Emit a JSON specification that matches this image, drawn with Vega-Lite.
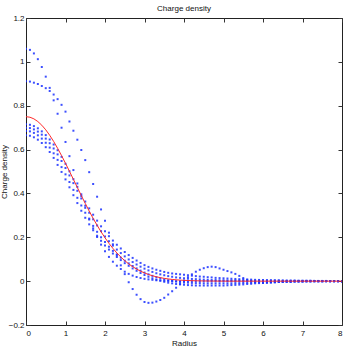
{
  "$schema": "https://vega.github.io/schema/vega-lite/v6.json",
  "width": 316,
  "height": 307,
  "autosize": {"type": "none"},
  "padding": {"left": 26, "top": 18, "right": 7, "bottom": 24},
  "title": {"text": "Charge density", "fontSize": 8, "font": "Liberation Sans", "fontWeight": "normal", "color": "#111", "offset": 1},
  "data": {"values": [
    {"r":0,"R":0.75,"a":1.06,"b":0.912,"c":0.715,"d":0.7,"e":0.685,"f":0.665},
    {"r":0.1,"R":0.7475,"a":1.0546,"b":0.91,"c":0.713,"d":0.698,"e":0.683,"f":0.663},
    {"r":0.2,"R":0.7401,"a":1.0385,"b":0.905,"c":0.707,"d":0.692,"e":0.676,"f":0.656},
    {"r":0.3,"R":0.7278,"a":1.0122,"b":0.899,"c":0.697,"d":0.682,"e":0.665,"f":0.645},
    {"r":0.4,"R":0.711,"a":0.9765,"b":0.89,"c":0.683,"d":0.668,"e":0.65,"f":0.63},
    {"r":0.5,"R":0.69,"a":0.9325,"b":0.88,"c":0.666,"d":0.65,"e":0.631,"f":0.611},
    {"r":0.6,"R":0.6652,"a":0.8813,"b":0.867,"c":0.646,"d":0.629,"e":0.609,"f":0.589},
    {"r":0.7,"R":0.637,"a":0.8245,"b":0.851,"c":0.623,"d":0.605,"e":0.583,"f":0.562},
    {"r":0.8,"R":0.6059,"a":0.7634,"b":0.83,"c":0.597,"d":0.578,"e":0.553,"f":0.53},
    {"r":0.9,"R":0.5725,"a":0.6997,"b":0.804,"c":0.567,"d":0.548,"e":0.52,"f":0.498},
    {"r":1.0,"R":0.5374,"a":0.6347,"b":0.773,"c":0.535,"d":0.516,"e":0.487,"f":0.464},
    {"r":1.1,"R":0.5011,"a":0.57,"b":0.728,"c":0.501,"d":0.482,"e":0.452,"f":0.428},
    {"r":1.2,"R":0.4641,"a":0.5065,"b":0.686,"c":0.465,"d":0.447,"e":0.416,"f":0.392},
    {"r":1.3,"R":0.427,"a":0.4456,"b":0.645,"c":0.43,"d":0.412,"e":0.38,"f":0.356},
    {"r":1.4,"R":0.3902,"a":0.388,"b":0.598,"c":0.396,"d":0.377,"e":0.345,"f":0.321},
    {"r":1.5,"R":0.3543,"a":0.3343,"b":0.552,"c":0.363,"d":0.344,"e":0.312,"f":0.289},
    {"r":1.6,"R":0.3195,"a":0.2852,"b":0.497,"c":0.332,"d":0.312,"e":0.281,"f":0.259},
    {"r":1.7,"R":0.2862,"a":0.2408,"b":0.443,"c":0.303,"d":0.282,"e":0.252,"f":0.232},
    {"r":1.8,"R":0.2547,"a":0.2013,"b":0.385,"c":0.276,"d":0.254,"e":0.225,"f":0.207},
    {"r":1.9,"R":0.2252,"a":0.1665,"b":0.327,"c":0.25,"d":0.228,"e":0.2,"f":0.184},
    {"r":2.0,"R":0.1977,"a":0.1363,"b":0.275,"c":0.227,"d":0.204,"e":0.178,"f":0.163},
    {"r":2.1,"R":0.1724,"a":0.1105,"b":0.221,"c":0.205,"d":0.182,"e":0.157,"f":0.144},
    {"r":2.2,"R":0.1494,"a":0.0886,"b":0.168,"c":0.185,"d":0.162,"e":0.138,"f":0.126},
    {"r":2.3,"R":0.1286,"a":0.0704,"b":0.118,"c":0.166,"d":0.144,"e":0.122,"f":0.11},
    {"r":2.4,"R":0.11,"a":0.0553,"b":0.072,"c":0.149,"d":0.128,"e":0.107,"f":0.096},
    {"r":2.5,"R":0.0934,"a":0.043,"b":0.032,"c":0.133,"d":0.113,"e":0.093,"f":0.082},
    {"r":2.6,"R":0.0788,"a":0.0331,"b":-0.005,"c":0.119,"d":0.099,"e":0.081,"f":0.07},
    {"r":2.7,"R":0.066,"a":0.0252,"b":-0.036,"c":0.106,"d":0.087,"e":0.069,"f":0.058},
    {"r":2.8,"R":0.055,"a":0.019,"b":-0.062,"c":0.094,"d":0.076,"e":0.058,"f":0.047},
    {"r":2.9,"R":0.0455,"a":0.0142,"b":-0.082,"c":0.083,"d":0.066,"e":0.048,"f":0.037},
    {"r":3.0,"R":0.0373,"a":0.0105,"b":-0.095,"c":0.073,"d":0.057,"e":0.039,"f":0.028},
    {"r":3.1,"R":0.0305,"a":0.008,"b":-0.099,"c":0.065,"d":0.049,"e":0.031,"f":0.02},
    {"r":3.2,"R":0.0247,"a":0.006,"b":-0.098,"c":0.058,"d":0.042,"e":0.024,"f":0.013},
    {"r":3.3,"R":0.0199,"a":0.004,"b":-0.093,"c":0.052,"d":0.036,"e":0.018,"f":0.007},
    {"r":3.4,"R":0.0159,"a":0.003,"b":-0.086,"c":0.047,"d":0.031,"e":0.013,"f":0.002},
    {"r":3.5,"R":0.0126,"a":0.002,"b":-0.076,"c":0.042,"d":0.027,"e":0.008,"f":-0.003},
    {"r":3.6,"R":0.01,"a":0.001,"b":-0.061,"c":0.038,"d":0.023,"e":0.004,"f":-0.007},
    {"r":3.7,"R":0.0078,"a":0.001,"b":-0.046,"c":0.035,"d":0.02,"e":0.001,"f":-0.01},
    {"r":3.8,"R":0.0061,"a":0,"b":-0.03,"c":0.033,"d":0.017,"e":-0.002,"f":-0.013},
    {"r":3.9,"R":0.0047,"a":0,"b":-0.013,"c":0.031,"d":0.015,"e":-0.004,"f":-0.015},
    {"r":4.0,"R":0.0036,"a":0,"b":0.003,"c":0.029,"d":0.013,"e":-0.006,"f":-0.017},
    {"r":4.1,"R":0.0028,"a":0,"b":0.018,"c":0.027,"d":0.011,"e":-0.007,"f":-0.018},
    {"r":4.2,"R":0.0021,"a":0,"b":0.031,"c":0.025,"d":0.01,"e":-0.008,"f":-0.019},
    {"r":4.3,"R":0.0016,"a":0,"b":0.043,"c":0.023,"d":0.009,"e":-0.009,"f":-0.02},
    {"r":4.4,"R":0.0012,"a":0,"b":0.052,"c":0.021,"d":0.008,"e":-0.009,"f":-0.02},
    {"r":4.5,"R":0.0009,"a":0,"b":0.059,"c":0.02,"d":0.007,"e":-0.01,"f":-0.02},
    {"r":4.6,"R":0.0006,"a":0,"b":0.064,"c":0.018,"d":0.006,"e":-0.01,"f":-0.02},
    {"r":4.7,"R":0.0005,"a":0,"b":0.066,"c":0.017,"d":0.005,"e":-0.01,"f":-0.02},
    {"r":4.8,"R":0.0003,"a":0,"b":0.064,"c":0.015,"d":0.005,"e":-0.01,"f":-0.02},
    {"r":4.9,"R":0.0002,"a":0,"b":0.058,"c":0.014,"d":0.004,"e":-0.01,"f":-0.02},
    {"r":5.0,"R":0.0002,"a":0,"b":0.052,"c":0.013,"d":0.004,"e":-0.01,"f":-0.02},
    {"r":5.1,"R":0,"a":0,"b":0.046,"c":0.012,"d":0.003,"e":-0.01,"f":-0.019},
    {"r":5.2,"R":0,"a":0,"b":0.04,"c":0.011,"d":0.003,"e":-0.01,"f":-0.018},
    {"r":5.3,"R":0,"a":0,"b":0.033,"c":0.01,"d":0.003,"e":-0.009,"f":-0.017},
    {"r":5.4,"R":0,"a":0,"b":0.024,"c":0.009,"d":0.003,"e":-0.009,"f":-0.016},
    {"r":5.5,"R":0,"a":0,"b":0.014,"c":0.008,"d":0.002,"e":-0.008,"f":-0.015},
    {"r":5.6,"R":0,"a":0,"b":0.006,"c":0.0075,"d":0.002,"e":-0.007,"f":-0.013},
    {"r":5.7,"R":0,"a":0,"b":0,"c":0.007,"d":0.002,"e":-0.007,"f":-0.012},
    {"r":5.8,"R":0,"a":0,"b":-0.004,"c":0.006,"d":0.002,"e":-0.006,"f":-0.01},
    {"r":5.9,"R":0,"a":0,"b":-0.006,"c":0.0055,"d":0.002,"e":-0.005,"f":-0.009},
    {"r":6.0,"R":0,"a":0,"b":-0.007,"c":0.005,"d":0.002,"e":-0.005,"f":-0.008},
    {"r":6.1,"R":0,"a":0,"b":-0.007,"c":0.0047,"d":0.002,"e":-0.004,"f":-0.007},
    {"r":6.2,"R":0,"a":0,"b":-0.006,"c":0.0044,"d":0.002,"e":-0.004,"f":-0.006},
    {"r":6.3,"R":0,"a":0,"b":-0.005,"c":0.0041,"d":0.002,"e":-0.003,"f":-0.005},
    {"r":6.4,"R":0,"a":0,"b":-0.004,"c":0.0038,"d":0.002,"e":-0.003,"f":-0.004},
    {"r":6.5,"R":0,"a":0,"b":-0.003,"c":0.0035,"d":0.001,"e":-0.002,"f":-0.004},
    {"r":6.6,"R":0,"a":0,"b":-0.002,"c":0.003,"d":0.001,"e":-0.002,"f":-0.003},
    {"r":6.7,"R":0,"a":0,"b":-0.002,"c":0.003,"d":0.001,"e":-0.002,"f":-0.003},
    {"r":6.8,"R":0,"a":0,"b":-0.001,"c":0.003,"d":0.001,"e":-0.001,"f":-0.002},
    {"r":6.9,"R":0,"a":0,"b":-0.001,"c":0.002,"d":0.001,"e":-0.001,"f":-0.002},
    {"r":7.0,"R":0,"a":0,"b":-0.001,"c":0.002,"d":0.001,"e":-0.001,"f":-0.002},
    {"r":7.1,"R":0,"a":0,"b":0,"c":0.002,"d":0.001,"e":-0.001,"f":-0.001},
    {"r":7.2,"R":0,"a":0,"b":0,"c":0.002,"d":0.001,"e":-0.001,"f":-0.001},
    {"r":7.3,"R":0,"a":0,"b":0,"c":0.001,"d":0.001,"e":0,"f":-0.001},
    {"r":7.4,"R":0,"a":0,"b":0,"c":0.001,"d":0,"e":0,"f":-0.001},
    {"r":7.5,"R":0,"a":0,"b":0,"c":0.001,"d":0,"e":0,"f":-0.001},
    {"r":7.6,"R":0,"a":0,"b":0,"c":0.001,"d":0,"e":0,"f":0},
    {"r":7.7,"R":0,"a":0,"b":0,"c":0,"d":0,"e":0,"f":0},
    {"r":7.8,"R":0,"a":0,"b":0,"c":0,"d":0,"e":0,"f":0},
    {"r":7.9,"R":0,"a":0,"b":0,"c":0,"d":0,"e":0,"f":0},
    {"r":8.0,"R":0,"a":0,"b":0,"c":0,"d":0,"e":0,"f":0}
  ]},
  "resolve": {"axis": {"x": "independent", "y": "independent"}},
  "layer": [
    {
      "transform": [{"fold": ["a", "b", "c", "d", "e", "f"], "as": ["series", "value"]}],
      "mark": {"type": "square", "size": 4, "color": "#1a30ff", "opacity": 0.85, "clip": true},
      "encoding": {
        "x": {"field": "r", "type": "quantitative", "scale": {"domain": [0, 8], "nice": false, "zero": false},
          "axis": {"orient": "bottom", "values": [0,1,2,3,4,5,6,7,8], "format": "d", "title": "Radius", "labelPadding": 8, "titlePadding": 2}},
        "y": {"field": "value", "type": "quantitative", "scale": {"domain": [-0.2, 1.2], "nice": false, "zero": false},
          "axis": {"orient": "left", "values": [-0.2,0,0.2,0.4,0.6,0.8,1,1.2], "format": "~g", "title": "Charge density", "labelPadding": 6, "titlePadding": 0}},
        "detail": {"field": "series", "type": "nominal"}
      }
    },
    {
      "mark": {"type": "line", "color": "#ff2a2a", "strokeWidth": 1, "clip": true},
      "encoding": {
        "x": {"field": "r", "type": "quantitative", "scale": {"domain": [0, 8], "nice": false, "zero": false},
          "axis": {"orient": "top", "values": [0,1,2,3,4,5,6,7,8], "labels": false, "title": null}},
        "y": {"field": "R", "type": "quantitative", "scale": {"domain": [-0.2, 1.2], "nice": false, "zero": false},
          "axis": {"orient": "right", "values": [-0.2,0,0.2,0.4,0.6,0.8,1,1.2], "labels": false, "title": null}}
      }
    }
  ],
  "config": {
    "view": {"stroke": "#222", "strokeWidth": 1},
    "axis": {
      "grid": false,
      "domain": false,
      "tickSize": -4,
      "tickColor": "#333",
      "labelFont": "Liberation Sans",
      "labelFontSize": 8,
      "labelColor": "#111",
      "titleFont": "Liberation Sans",
      "titleFontSize": 8,
      "titleFontWeight": "normal",
      "titleColor": "#111"
    }
  }
}
